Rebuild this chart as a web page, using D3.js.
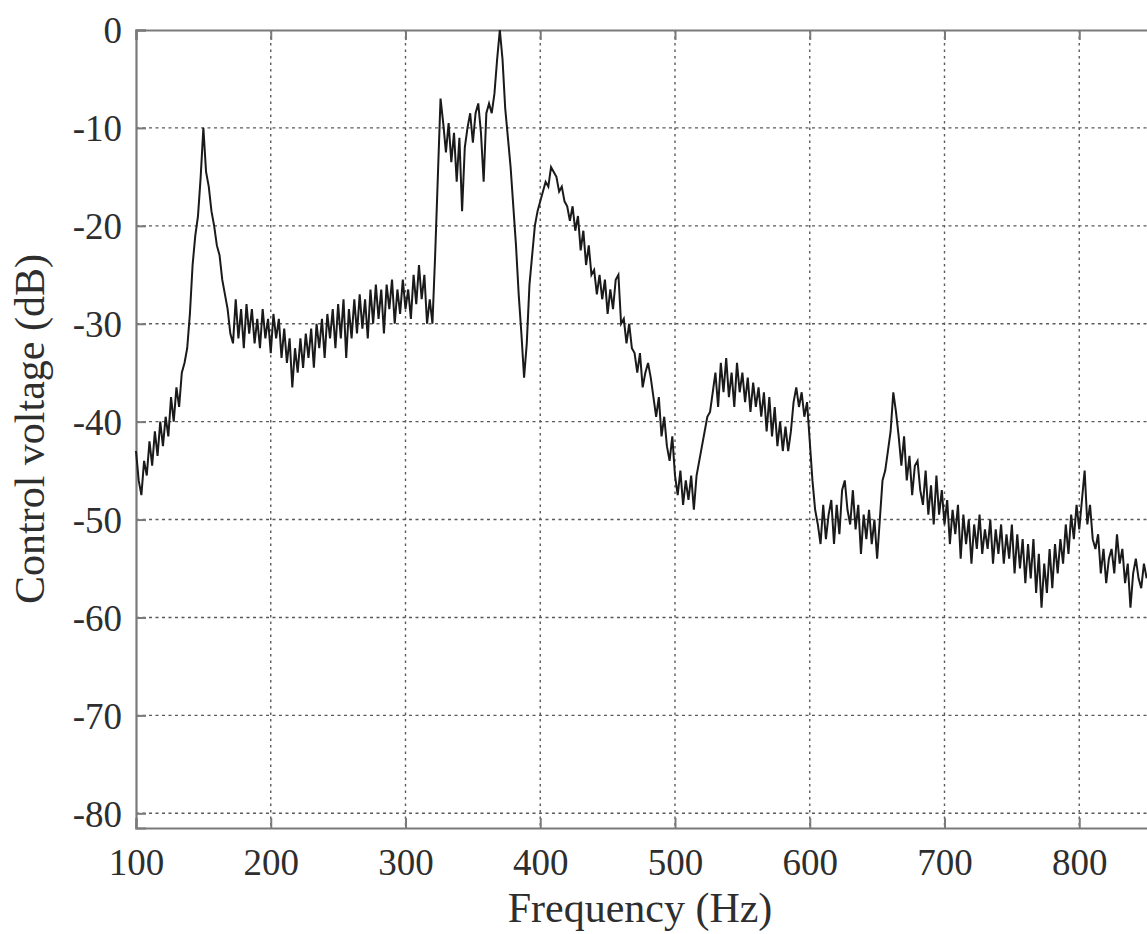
<!DOCTYPE html>
<html>
<head>
<meta charset="utf-8">
<script src="https://cdn.jsdelivr.net/npm/d3@7"></script>
<style>
  html, body { margin: 0; padding: 0; background: #fff; }
  svg { display: block; }
  svg text { font-family: "Liberation Serif", "DejaVu Serif", "Noto Serif", serif !important; fill: #2e2e2e; }
</style>
</head>
<body>
<svg id="chart" width="1147" height="934"></svg>
<script>
// ---- data ----
const freqStart = 100;   // Hz, first sample
const freqStep = 2;      // Hz between samples
const controlVoltage = [
  // 100 - 140 Hz
  -43, -46, -47.5, -44, -45.5, -42, -44.5, -41, -43.5, -40, -42.5, -39.5, -41.5, -37.5, -40, -36.5, -38.5, -35, -34, -32.5, -29,
  // 142 - 170 Hz
  -24, -21, -19, -15, -10, -14.5, -16, -18.5, -20, -22, -23, -25.5, -27, -28.5, -31,
  // 172 - 220 Hz
  -32, -27.5, -31.5, -28.5, -32.5, -28, -31, -28.5, -32, -29.5, -32.5, -28.5, -31.5, -29.5, -33, -29, -31.5, -29.5, -33.5, -30.5, -34, -31.5, -36.5, -32.5, -35,
  // 222 - 270 Hz
  -31.5, -34.5, -31, -33.5, -30.5, -34.5, -30, -32.5, -29.5, -33.5, -29, -31.5, -28.5, -32.5, -28, -31.5, -27.5, -33.5, -28.5, -31.5, -27.5, -31, -27, -30.5, -27.5,
  // 272 - 320 Hz
  -31.5, -26.5, -30, -26, -29.5, -26.5, -31, -26, -28.5, -25.5, -30, -26.5, -29, -25.5, -28.5, -26.5, -29.5, -25, -28, -24, -27.5, -25, -30, -27.5, -30,
  // 322 - 370 Hz
  -23, -15, -7, -9.5, -12.5, -9.5, -13.5, -10.5, -15.5, -11, -18.5, -12, -10, -8.5, -11.5, -8.5, -7.5, -10.5, -15.5, -8.5, -7.5, -8.5, -6.5, -3, 0,
  // 372 - 420 Hz
  -3, -8, -11, -14, -18, -22, -27, -31, -35.5, -32, -26, -23, -20, -18.5, -17.5, -16.5, -15.5, -16, -14, -14.5, -15, -16.5, -16, -17.5, -18,
  // 422 - 470 Hz
  -19.5, -18, -20.5, -19, -22.5, -20.5, -24, -22, -25, -24.5, -27, -25, -27.5, -25.5, -29, -26.5, -28.5, -25.5, -25, -30, -29.5, -32, -30, -32.5, -33,
  // 472 - 520 Hz
  -35, -33, -36.5, -35, -34, -35.5, -37.5, -39.5, -37.5, -41.5, -39.5, -42.5, -44, -41.5, -45.5, -47.5, -45, -48.5, -46, -48, -45.5, -49, -45.5, -44, -42.5,
  // 522 - 570 Hz
  -41, -39.5, -39, -37, -35, -38.5, -34, -37, -33.5, -37.5, -35, -38.5, -34, -37, -35, -38, -35.5, -39, -36, -38.5, -36.5, -39.5, -37, -41, -37.5,
  // 572 - 620 Hz
  -41.5, -38.5, -42.5, -40, -43, -40.5, -43, -41, -38, -36.5, -38.5, -37, -39.5, -38, -42, -46, -49, -50.5, -52.5, -48.5, -52, -49.5, -48, -52.5, -48.5,
  // 622 - 670 Hz
  -51.5, -47, -46, -49, -50.5, -47, -51, -48.5, -53.5, -49.5, -52, -49, -52.5, -50, -54, -50, -46, -45, -43, -41, -37, -39, -41.5, -44.5, -41.5,
  // 672 - 720 Hz
  -46, -43.5, -47.5, -44.5, -44, -47, -48.5, -45, -49.5, -46.5, -50.5, -45.5, -49.5, -47, -50.5, -48, -52.5, -49, -51.5, -48.5, -54, -49.5, -52.5, -50, -54.5,
  // 722 - 770 Hz
  -50.5, -53, -49.5, -53.5, -51, -53, -50, -54.5, -51, -53.5, -50.5, -54.5, -51.5, -54, -50.5, -55.5, -51.5, -55, -52, -56.5, -52.5, -56, -52, -57.5, -53.5,
  // 772 - 820 Hz
  -59, -54.5, -57.5, -53, -57, -52.5, -55.5, -52, -54.5, -50.5, -53.5, -49.5, -52, -48.5, -51, -48, -45, -50.5, -48.5, -52, -53, -51.5, -55.5, -53, -56.5,
  // 822 - 850 Hz
  -54, -53, -55.5, -51.5, -54.5, -53, -56.5, -54.5, -59, -55.5, -54, -56, -57, -54.5, -56
];
const xTicks = [100, 200, 300, 400, 500, 600, 700, 800];
const yTicks = [0, -10, -20, -30, -40, -50, -60, -70, -80];
const xTitle = "Frequency (Hz)";
const yTitle = "Control voltage (dB)";

const series = controlVoltage.map((v, i) => ({ f: freqStart + i * freqStep, v }));

// ---- layout ----
const svg = d3.select("#chart");
const mLeft = 136, mTop = 30, mBottom = 828, mRight = 1214;
const x = d3.scaleLinear().domain([100, 900]).range([mLeft, mRight]);
const y = d3.scaleLinear().domain([-81.5, 0]).range([mBottom, mTop]);
const fmt = d => String(d);

// grid
const grid = svg.append("g");
grid.selectAll("line.vg").data(xTicks.slice(1)).join("line")
  .attr("x1", d => x(d)).attr("x2", d => x(d))
  .attr("y1", mTop).attr("y2", mBottom)
  .attr("stroke", "#5a5a5a").attr("stroke-width", 1.4)
  .attr("stroke-dasharray", "2.5,4");
grid.selectAll("line.hg").data(yTicks.slice(1)).join("line")
  .attr("x1", mLeft).attr("x2", 1147)
  .attr("y1", d => y(d)).attr("y2", d => y(d))
  .attr("stroke", "#5a5a5a").attr("stroke-width", 1.4)
  .attr("stroke-dasharray", "3,3.5");

// axes
const gy = svg.append("g").attr("transform", `translate(${mLeft},0)`)
  .call(d3.axisLeft(y).tickValues(yTicks).tickSize(-10).tickPadding(14).tickFormat(fmt));
const gx = svg.append("g").attr("transform", `translate(0,${mBottom})`)
  .call(d3.axisBottom(x).tickValues(xTicks).tickSize(-10).tickPadding(14).tickFormat(fmt));
const gxTop = svg.append("g").attr("transform", `translate(0,${mTop})`)
  .call(d3.axisTop(x).tickValues(xTicks).tickSize(-10).tickFormat(""));

[gy, gx, gxTop].forEach(g => {
  g.attr("font-family", null).attr("font-size", null);
  g.select(".domain").attr("stroke", "#7a7a7a").attr("stroke-width", 2.2);
  g.selectAll(".tick line").attr("stroke", "#7a7a7a").attr("stroke-width", 2);
  g.selectAll(".tick text").style("font-size", "37px").attr("fill", "#2e2e2e");
});
gy.selectAll(".tick text").attr("dy", "0.35em");
gx.selectAll(".tick text").attr("dy", "0.88em");

// data line
const line = d3.line().x(d => x(d.f)).y(d => y(d.v));
svg.append("path").datum(series)
  .attr("d", line)
  .attr("fill", "none")
  .attr("stroke", "#1a1a1a")
  .attr("stroke-width", 2)
  .attr("stroke-linejoin", "miter");

// titles
svg.append("text")
  .attr("x", 640).attr("y", 922)
  .attr("text-anchor", "middle")
  .style("font-size", "42px")
  .text(xTitle);
svg.append("text")
  .attr("transform", `translate(44,${(mTop + mBottom) / 2}) rotate(-90)`)
  .attr("text-anchor", "middle")
  .style("font-size", "42px")
  .text(yTitle);
</script>
</body>
</html>
